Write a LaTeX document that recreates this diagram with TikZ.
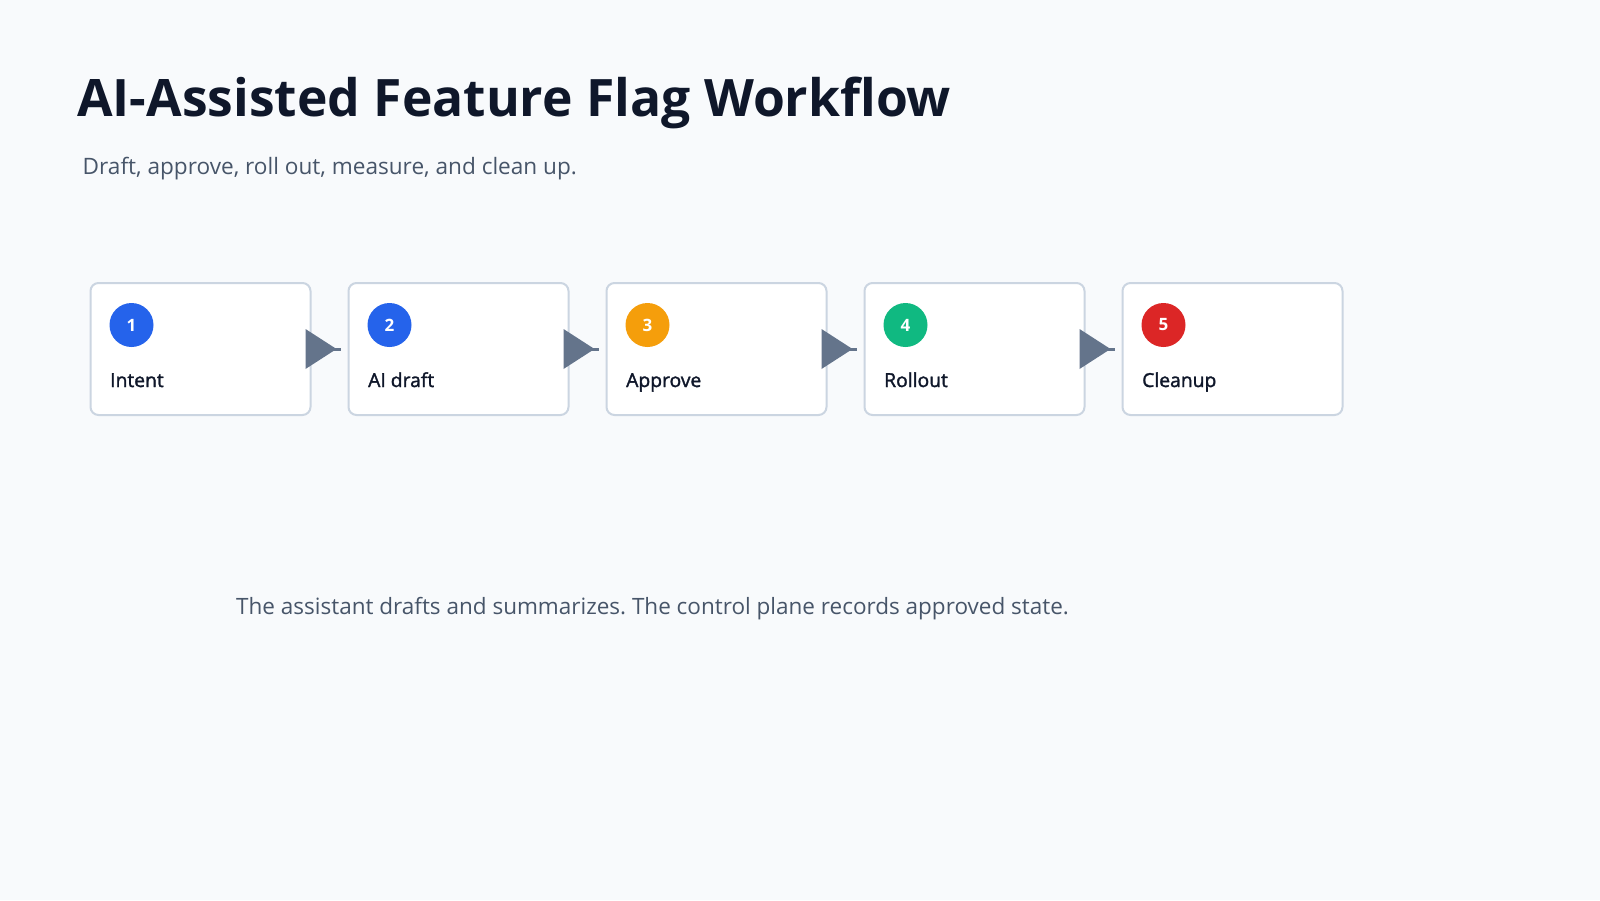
\documentclass[tikz,border=0pt]{standalone}
\usepackage{fontspec}
\setmainfont{Open Sans}
\newfontfamily\semib{Open Sans}[UprightFeatures={FakeBold=1.6}]
\definecolor{bg}{HTML}{F8FAFC}
\definecolor{ink}{HTML}{0F172A}
\definecolor{muted}{HTML}{475569}
\definecolor{border}{HTML}{CBD5E1}
\definecolor{arrowc}{HTML}{64748B}
\definecolor{cblue}{HTML}{2563EB}
\definecolor{camber}{HTML}{F59E0B}
\definecolor{cgreen}{HTML}{10B981}
\definecolor{cred}{HTML}{DC2626}
\tikzset{
  stepcard/.style={draw=border, line width=2pt, fill=white, rounded corners=8pt,
    minimum width=220pt, minimum height=132pt, anchor=north west, inner sep=0pt},
  badge/.style={circle, minimum size=44pt, inner sep=0pt, text=white,
    font=\fontsize{17}{19}\selectfont\bfseries},
  cardlabel/.style={anchor=base west, inner sep=0pt, text=ink, font=\semib\fontsize{19.3}{23}\selectfont},
  flowline/.style={draw=arrowc, line width=3pt},
  flowhead/.style={fill=arrowc, draw=none}
}
\frenchspacing
\begin{document}
\begin{tikzpicture}[x=1pt,y=-1pt]
\fill[bg] (0,0) rectangle (1600,900);
\useasboundingbox (0,0) rectangle (1600,900);
\node[anchor=base west, inner sep=0pt, text=ink, font=\fontsize{51.6}{60}\selectfont\bfseries] (title) at (77,116) {AI-Assisted Feature Flag Workflow};
\node[anchor=base west, inner sep=0pt, text=muted, font=\fontsize{22.6}{26}\selectfont] (subtitle) at (82.5,174) {Draft, approve, roll out, measure, and clean up.};
\foreach \i/\lab/\col in {1/Intent/cblue, 2/AI draft/cblue, 3/Approve/camber, 4/Rollout/cgreen, 5/Cleanup/cred}{
  \pgfmathsetmacro{\xx}{89.5+258*(\i-1)}
  \node[stepcard] (card\i) at (\xx,282) {};
  \node[badge, fill=\col] (badge\i) at (\xx+42,325) {\i};
  \node[cardlabel] (label\i) at (\xx+20.5,387) {\lab};
}
\foreach \a/\b in {1/2,2/3,3/4,4/5}{
  \coordinate (tip\a) at ([xshift=-7pt]card\b.west);
  \draw[flowline] (card\a.east) -- (tip\a);
  \fill[flowhead] ([xshift=-6pt,yshift=20pt]card\a.east) -- ([xshift=25pt]card\a.east) -- ([xshift=-6pt,yshift=-20pt]card\a.east) -- cycle;
}
\node[anchor=base west, inner sep=0pt, text=muted, font=\fontsize{22.5}{27}\selectfont] (caption) at (236,614) {The assistant drafts and summarizes. The control plane records approved state.};
\end{tikzpicture}
\end{document}
